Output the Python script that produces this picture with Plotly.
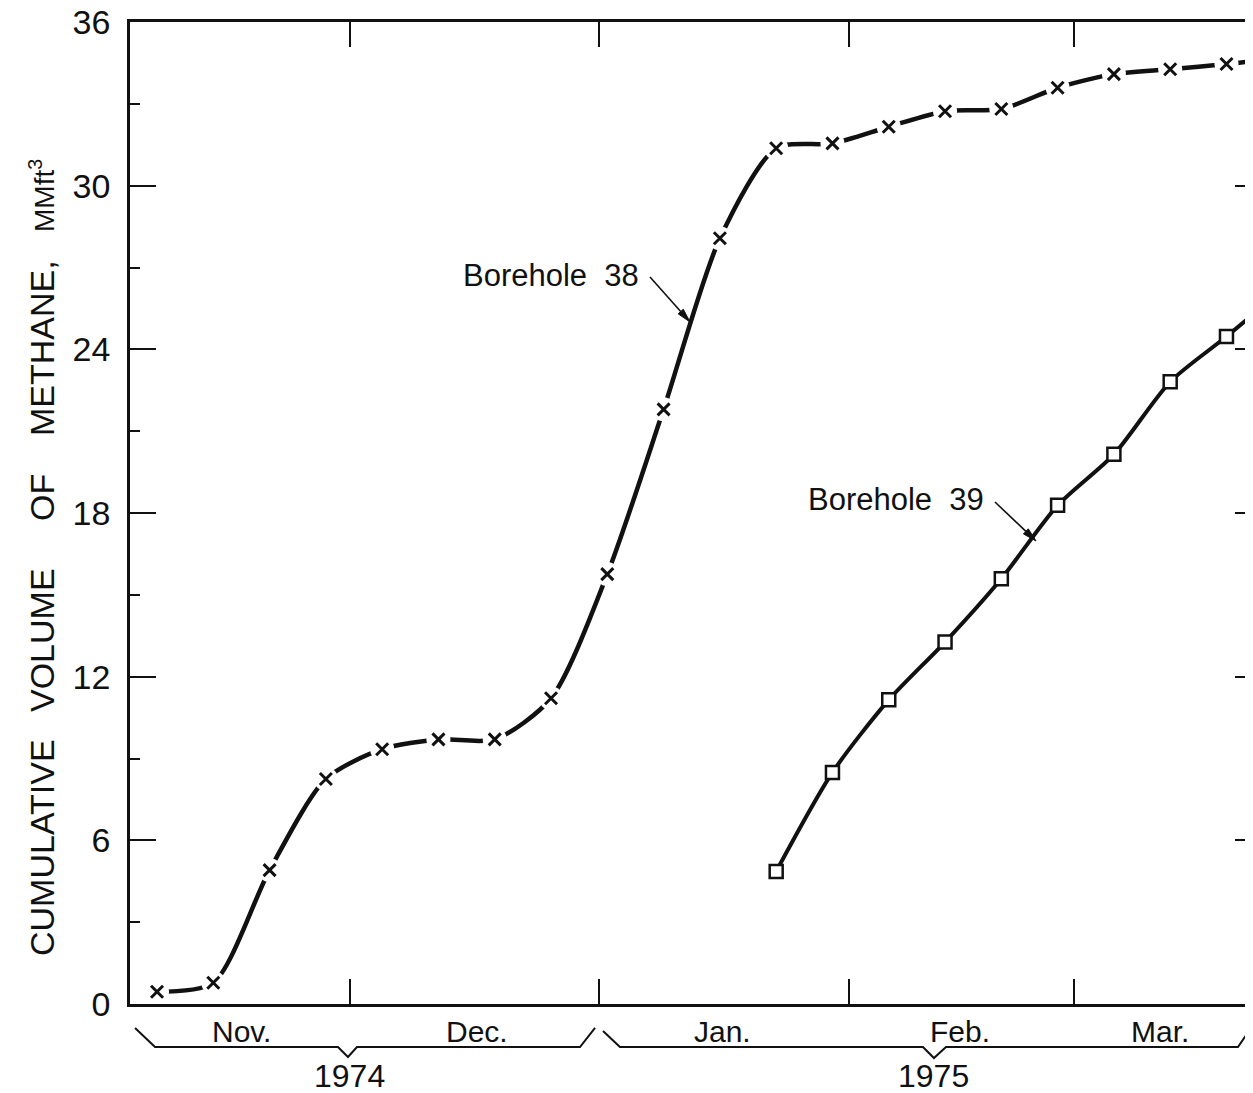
import math
import plotly.graph_objects as go

# weekly readings
dates_38 = ['1974-11-07', '1974-11-14', '1974-11-21', '1974-11-28', '1974-12-05',
            '1974-12-12', '1974-12-19', '1974-12-26', '1975-01-02', '1975-01-09',
            '1975-01-16', '1975-01-23', '1975-01-30', '1975-02-06', '1975-02-13',
            '1975-02-20', '1975-02-27', '1975-03-06', '1975-03-13', '1975-03-20',
            '1975-03-27']
borehole_38 = [0.45, 0.78, 4.91, 8.25, 9.34, 9.70, 9.70, 11.21, 15.76, 21.80,
               28.07, 31.37, 31.55, 32.16, 32.73, 32.81, 33.59, 34.09, 34.27, 34.46,
               34.70]

dates_39 = ['1975-01-23', '1975-01-30', '1975-02-06', '1975-02-13', '1975-02-20',
            '1975-02-27', '1975-03-06', '1975-03-13', '1975-03-20', '1975-03-27']
borehole_39 = [4.86, 8.49, 11.15, 13.27, 15.59, 18.28, 20.15, 22.81, 24.47, 26.2]

month_ticks = ['1974-12-01', '1975-01-01', '1975-02-01', '1975-03-01']
month_labels = ['Nov.', 'Dec.', 'Jan.', 'Feb.', 'Mar.']
year_labels = ['1974', '1975']

# the page body adds an 8px margin, so the figure is 8px smaller than the window
OFF = 8
W, H = 1253 - OFF, 1093 - OFF
L, R, T, B = 130 - OFF, 0, 22 - OFF, 89
FONT = 'Liberation Sans'
INK = '#111111'


def px(x):
    # window pixel column -> paper x
    return (x - OFF - L) / (W - L - R)


def py(y):
    # window pixel row -> paper y
    return (H - B - (y - OFF)) / (H - T - B)


fig = go.Figure()

fig.add_trace(go.Scatter(x=dates_38, y=borehole_38, mode='lines',
                         line=dict(color=INK, width=4.5, shape='spline', smoothing=0.75),
                         hoverinfo='skip'))
# white discs break the curve around every marker
fig.add_trace(go.Scatter(x=dates_38, y=borehole_38, mode='markers',
                         marker=dict(symbol='circle', size=24, color='white',
                                     line=dict(width=0)),
                         hoverinfo='skip'))
fig.add_trace(go.Scatter(x=dates_38, y=borehole_38, mode='markers', name='Borehole 38',
                         marker=dict(symbol='x-thin', size=12,
                                     line=dict(width=3, color=INK))))

fig.add_trace(go.Scatter(x=dates_39, y=borehole_39, mode='lines+markers', name='Borehole 39',
                         yaxis='y2',
                         line=dict(color=INK, width=4, shape='spline', smoothing=0.75),
                         marker=dict(symbol='square', size=13, color='white',
                                     line=dict(width=2.5, color=INK))))

fig.update_layout(
    width=W, height=H,
    margin=dict(l=L, r=R, t=T, b=B, pad=0),
    paper_bgcolor='white', plot_bgcolor='white',
    showlegend=False,
    font=dict(family=FONT, color=INK),
    xaxis=dict(type='date', range=['1974-11-03 15:22', '1975-03-23 07:10'],
               tickvals=month_ticks, showticklabels=False, automargin=False,
               ticks='inside', ticklen=25, tickwidth=2, tickcolor=INK,
               showline=True, linewidth=2.5, linecolor=INK, mirror='ticks',
               showgrid=False, zeroline=False),
    yaxis=dict(range=[0, 36], tick0=0, dtick=6, automargin=False,
               ticks='inside', ticklen=26, tickwidth=2, tickcolor=INK,
               ticklabelstandoff=10, ticklabeloverflow='allow',
               tickfont=dict(family=FONT, size=34, color=INK),
               minor=dict(ticks='inside', ticklen=10, tickwidth=2, tickcolor=INK, dtick=3),
               showline=True, linewidth=2.5, linecolor=INK,
               showgrid=False, zeroline=False),
    yaxis2=dict(range=[0, 36], overlaying='y', side='right', tick0=0, dtick=6,
                automargin=False,
                ticks='inside', ticklen=18, tickwidth=2, tickcolor=INK,
                minor=dict(ticks='inside', ticklen=4, tickwidth=2, tickcolor=INK, dtick=3),
                showticklabels=False, showline=False, showgrid=False, zeroline=False),
)

ann = []
# y axis title, word by word
title_words = [('CUMULATIVE', 848, 34), ('VOLUME', 640, 34), ('OF', 498, 34),
               ('METHANE,', 348, 34), ('MMft<sup>3</sup>', 196, 28)]
for word, yc, size in title_words:
    ann.append(dict(text=word, x=px(42), y=py(yc), xref='paper', yref='paper',
                    showarrow=False, textangle=-90, xanchor='center', yanchor='middle',
                    font=dict(family=FONT, size=size, color=INK)))

# month and year labels under the axis
for label, xc in zip(month_labels, [241, 477, 722, 960, 1160]):
    ann.append(dict(text=label, x=px(xc), y=py(1031), xref='paper', yref='paper',
                    showarrow=False, xanchor='center', yanchor='middle',
                    font=dict(family=FONT, size=30, color=INK)))
for label, xc in zip(year_labels, [349, 933]):
    ann.append(dict(text=label, x=px(xc), y=py(1076), xref='paper', yref='paper',
                    showarrow=False, xanchor='center', yanchor='middle',
                    font=dict(family=FONT, size=32, color=INK)))

# curve labels
ann.append(dict(text='Borehole  38', x=px(551), y=py(275), xref='paper', yref='paper',
                showarrow=False, xanchor='center', yanchor='middle',
                font=dict(family=FONT, size=31, color=INK)))
ann.append(dict(text='Borehole  39', x=px(896), y=py(499), xref='paper', yref='paper',
                showarrow=False, xanchor='center', yanchor='middle',
                font=dict(family=FONT, size=31, color=INK)))
fig.update_layout(annotations=ann)


def bracket(pts):
    d = 'M ' + ' L '.join('{:.4f},{:.4f}'.format(px(a), py(b)) for a, b in pts)
    return dict(type='path', path=d, xref='paper', yref='paper',
                line=dict(color=INK, width=2))


def arrow(tail, head, length=14, half=3.5):
    # slim line with a filled head, in window pixels
    dx, dy = head[0] - tail[0], head[1] - tail[1]
    n = math.hypot(dx, dy)
    ux, uy = dx / n, dy / n
    bx, by = head[0] - ux * length, head[1] - uy * length
    p1 = (bx - uy * half, by + ux * half)
    p2 = (bx + uy * half, by - ux * half)
    stem = dict(type='line', xref='paper', yref='paper',
                x0=px(tail[0]), y0=py(tail[1]), x1=px(bx), y1=py(by),
                line=dict(color=INK, width=1.6))
    tip = dict(type='path', xref='paper', yref='paper',
               path='M {:.4f},{:.4f} L {:.4f},{:.4f} L {:.4f},{:.4f} Z'.format(
                   px(head[0]), py(head[1]), px(p1[0]), py(p1[1]), px(p2[0]), py(p2[1])),
               fillcolor=INK, line=dict(color=INK, width=1))
    return [stem, tip]


fig.update_layout(shapes=[
    bracket([(135, 1028), (155, 1047), (338, 1047), (348, 1057), (357, 1047),
             (580, 1047), (595, 1028)]),
    bracket([(603, 1031), (620, 1047), (923, 1047), (934, 1058), (946, 1047),
             (1238, 1047), (1253, 1025)]),
] + arrow((650, 277), (690, 322)) + arrow((995, 502), (1036, 541)))

fig.write_html("out.html")
